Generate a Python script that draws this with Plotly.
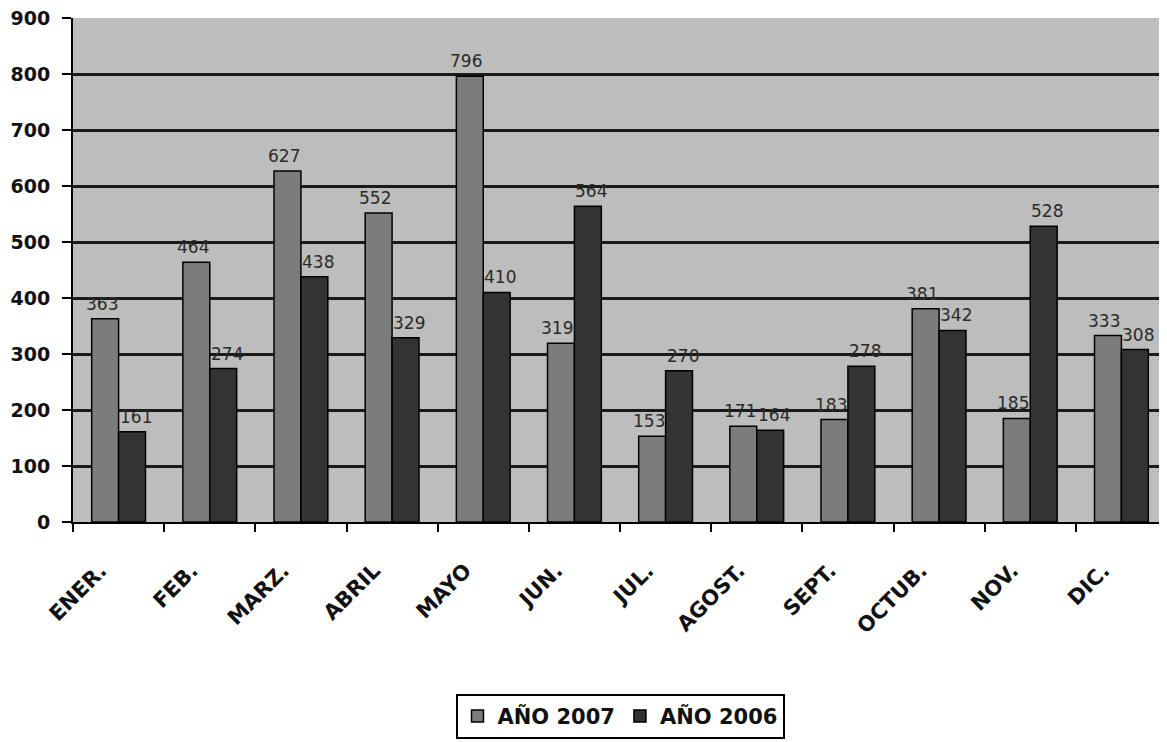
import plotly.graph_objects as go

months = ["ENER.", "FEB.", "MARZ.", "ABRIL", "MAYO", "JUN.", "JUL.", "AGOST.",
          "SEPT.", "OCTUB.", "NOV.", "DIC."]
anio_2007 = [363, 464, 627, 552, 796, 319, 153, 171, 183, 381, 185, 333]
anio_2006 = [161, 274, 438, 329, 410, 564, 270, 164, 278, 342, 528, 308]
y_ticks = [0, 100, 200, 300, 400, 500, 600, 700, 800, 900]

FONT = "DejaVu Sans, Arial, sans-serif"
LABEL_FONT = dict(family=FONT, size=17, color="#2a2a2a")

fig = go.Figure()
fig.add_trace(go.Bar(
    x=months, y=anio_2007, name="AÑO 2007",
    marker=dict(color="#7c7c7c", line=dict(color="#000000", width=1.5)),
))
fig.add_trace(go.Bar(
    x=months, y=anio_2006, name="AÑO 2006",
    marker=dict(color="#333333", line=dict(color="#000000", width=1.5)),
))

# value labels above each bar (shifted slightly outward so neighbours don't collide)
for m, v in zip(months, anio_2007):
    fig.add_annotation(x=m, y=v, text=str(v), showarrow=False,
                       xanchor="center", yanchor="bottom",
                       xshift=-17, yshift=3, font=LABEL_FONT)
for m, v in zip(months, anio_2006):
    fig.add_annotation(x=m, y=v, text=str(v), showarrow=False,
                       xanchor="center", yanchor="bottom",
                       xshift=17, yshift=3, font=LABEL_FONT)

fig.update_layout(
    width=1159, height=734, autosize=False,
    margin=dict(l=65, r=0, t=10, b=220, autoexpand=False),
    paper_bgcolor="white",
    plot_bgcolor="#bdbdbd",
    barmode="group",
    bargap=0.41, bargroupgap=0,
    font=dict(family=FONT, color="#111111"),
    showlegend=True,
    legend=dict(
        orientation="h", x=0.5, xanchor="center",
        y=-0.341, yanchor="top",
        bordercolor="#000000", borderwidth=2, bgcolor="white",
        font=dict(family=FONT, size=21, color="#111111", weight="bold"),
        itemwidth=30, tracegroupgap=0,
    ),
    xaxis=dict(
        type="category", tickangle=-45, automargin=False,
        tickfont=dict(family=FONT, size=21, color="#111111", weight="bold"),
        showline=True, linecolor="#000000", linewidth=2,
        ticks="outside", ticklen=8, tickwidth=2, tickcolor="#000000",
        tickson="boundaries", showgrid=False,
        ticklabelstandoff=26, ticklabelshift=-18,
    ),
    yaxis=dict(
        range=[0, 900], tickvals=y_ticks, automargin=False,
        tickfont=dict(family=FONT, size=19, color="#111111", weight="bold"),
        showline=True, linecolor="#000000", linewidth=2,
        ticks="outside", ticklen=9, tickwidth=2, tickcolor="#000000",
        ticklabelstandoff=8, ticklabeloverflow="allow",
        showgrid=True, gridcolor="#1a1a1a", gridwidth=2.5,
        zeroline=False,
    ),
)

fig.write_html("out.html")
